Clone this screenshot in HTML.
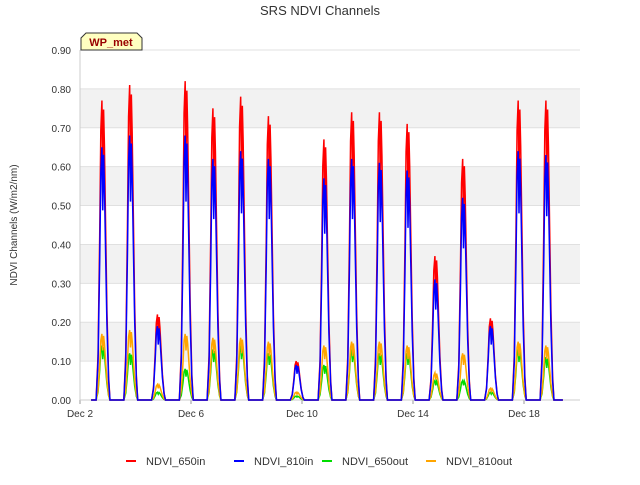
<!DOCTYPE html>
<html><head><meta charset="utf-8"><style>
body{margin:0;background:#fff;font-family:"Liberation Sans",sans-serif}
svg text{font-family:"Liberation Sans",sans-serif}
</style></head><body>
<svg id="c" width="640" height="480"></svg>
<script>
const dayCenters=[2.83,3.83,4.83,5.83,6.83,7.83,8.83,9.83,10.83,11.83,12.83,13.83,14.83,15.83,16.83,17.83,18.83];
const in650=[0.77,0.81,0.22,0.82,0.75,0.78,0.73,0.10,0.67,0.74,0.74,0.71,0.37,0.62,0.21,0.77,0.77];
const in810=[0.65,0.68,0.19,0.68,0.62,0.64,0.62,0.09,0.57,0.62,0.61,0.59,0.31,0.52,0.19,0.64,0.63];
const out650=[0.14,0.12,0.02,0.08,0.13,0.14,0.12,0.01,0.09,0.13,0.12,0.12,0.05,0.05,0.02,0.13,0.11];
const out810=[0.17,0.18,0.04,0.17,0.16,0.16,0.15,0.02,0.14,0.15,0.15,0.14,0.07,0.12,0.03,0.15,0.14];
const profOff=[-0.25,-0.18,-0.12,-0.08,-0.04,-0.01,0.02,0.05,0.09,0.14,0.2,0.25];
const profVal=[0,0.15,0.55,0.9,1,0.75,0.97,0.85,0.6,0.3,0.08,0];
const yTicks=[0,0.1,0.2,0.3,0.4,0.5,0.6,0.7,0.8,0.9];
const xTickDays=[2,6,10,14,18];
const xTickLabels=["Dec 2","Dec 6","Dec 10","Dec 14","Dec 18"];
const L=80,R=580,T=50,B=400;
const x=d=>L+(d-2)*27.75;
const y=v=>B-v/0.9*(B-T);
const svg=document.getElementById('c');
const NS='http://www.w3.org/2000/svg';
function mk(t,a,p){const e=document.createElementNS(NS,t);for(const k in a)e.setAttribute(k,a[k]);(p||svg).appendChild(e);return e;}
for(let i=0;i<9;i++){if(i%2==1){const r=mk('rect',{x:L,y:y(yTicks[i+1]),width:R-L,height:y(yTicks[i])-y(yTicks[i+1]),fill:'#f2f2f2'});}}
yTicks.forEach(v=>{mk('line',{x1:L,x2:R,y1:y(v),y2:y(v),stroke:'#e0e0e0'});
const t=mk('text',{x:L-9,y:y(v)+4,'text-anchor':'end','font-size':10,fill:'#333'});t.textContent=v.toFixed(2);});
xTickDays.forEach((d,i)=>{mk('line',{x1:x(d),x2:x(d),y1:B,y2:B+4,stroke:'#999'});
const t=mk('text',{x:x(d),y:B+17,'text-anchor':'middle','font-size':10,fill:'#333'});t.textContent=xTickLabels[i];});
mk('line',{x1:L,x2:L,y1:T,y2:B,stroke:'#ccc'});mk('line',{x1:L,x2:R,y1:B,y2:B,stroke:'#ccc'});
const series=[[out650,'#00dd00','ndvi-650out-line'],[out810,'#ffa500','ndvi-810out-line'],[in650,'#ff0000','ndvi-650in-line'],[in810,'#0000ff','ndvi-810in-line']];
series.forEach(([vals,col,name])=>{let pts=[[x(2.4),y(0)]];dayCenters.forEach((c,i)=>{profOff.forEach((o,j)=>pts.push([x(c+o),y(vals[i]*profVal[j])]));});pts.push([x(19.4),y(0)]);
const p=mk('polyline',{points:pts.map(q=>q.join(',')).join(' '),fill:'none',stroke:col,'stroke-width':1.5});});
let t=mk('text',{x:320,y:15,'text-anchor':'middle','font-size':13,fill:'#333'});t.textContent='SRS NDVI Channels';
t=mk('text',{x:17,y:225,'text-anchor':'middle','font-size':10,fill:'#333',transform:'rotate(-90 17 225)'});t.textContent='NDVI Channels (W/m2/nm)';
const g=mk('g',{});
mk('path',{d:'M81,50 L81,38 L86,33 L137,33 L142,38 L142,50 Z',fill:'#ffffc0',stroke:'#333'},g);
t=mk('text',{x:111,y:46,'text-anchor':'middle','font-size':11,'font-weight':'bold',fill:'#990000'},g);t.textContent='WP_met';
const leg=[['NDVI_650in','#ff0000',126],['NDVI_810in','#0000ff',234],['NDVI_650out','#00dd00',322],['NDVI_810out','#ffa500',426]];
leg.forEach(([n,c,lx])=>{const lg=mk('g',{});
mk('line',{x1:lx,x2:lx+10,y1:461,y2:461,stroke:c,'stroke-width':2},lg);const tt=mk('text',{x:lx+20,y:465,'font-size':11,fill:'#333'},lg);tt.textContent=n;});
</script>
</body></html>
